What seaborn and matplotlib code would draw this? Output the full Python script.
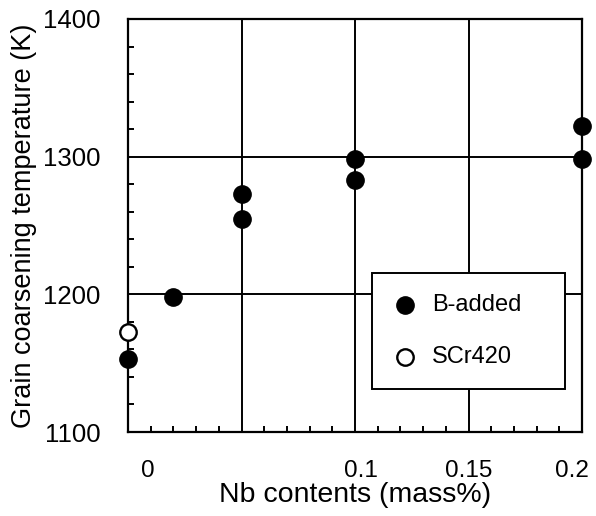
import matplotlib
matplotlib.use("Agg")
import matplotlib.pyplot as plt
import matplotlib.transforms as mtransforms
from matplotlib.ticker import MultipleLocator, FixedLocator
import seaborn as sns
import pandas as pd

# ---- data ----
b_added_nb = [0.0, 0.02, 0.05, 0.05, 0.10, 0.10, 0.20, 0.20]
b_added_temp = [1153, 1198, 1273, 1255, 1298, 1283, 1322, 1298]
scr420_nb = [0.0]
scr420_temp = [1173]
x_tick_values = [0.0, 0.05, 0.10, 0.15, 0.20]
x_tick_labels = ["0", "", "0.1", "0.15", "0.2"]
y_tick_values = [1100, 1200, 1300, 1400]
y_tick_labels = ["1100", "1200", "1300", "1400"]

sns.set_style("white")
plt.rcParams["font.family"] = ["Liberation Sans", "DejaVu Sans"]
plt.rcParams["text.color"] = "black"
plt.rcParams["axes.labelcolor"] = "black"
plt.rcParams["xtick.color"] = "black"
plt.rcParams["ytick.color"] = "black"

fig = plt.figure(figsize=(5.96, 5.16), dpi=100)
ax = fig.add_axes([128 / 596, 1 - 432 / 516, 454 / 596, 413 / 516])

df_b = pd.DataFrame({"nb": b_added_nb, "temp": b_added_temp})
df_s = pd.DataFrame({"nb": scr420_nb, "temp": scr420_temp})

sns.scatterplot(data=df_b, x="nb", y="temp", ax=ax, s=155, color="black",
                edgecolor="black", linewidth=1.0, marker="o", label="B-added",
                clip_on=False, zorder=6)
sns.scatterplot(data=df_s, x="nb", y="temp", ax=ax, s=140, facecolor="white",
                edgecolor="black", linewidth=1.7, marker="o", label="SCr420",
                clip_on=False, zorder=6)

ax.set_xlim(0, 0.2)
ax.set_ylim(1100, 1400)

ax.xaxis.set_major_locator(FixedLocator(x_tick_values))
ax.set_xticklabels(x_tick_labels)
ax.yaxis.set_major_locator(FixedLocator(y_tick_values))
ax.set_yticklabels(y_tick_labels)
ax.xaxis.set_minor_locator(MultipleLocator(0.01))
ax.yaxis.set_minor_locator(MultipleLocator(20))

ax.tick_params(axis="x", which="major", length=0, pad=20, labelsize=17.5,
               labelcolor="black")
ax.tick_params(axis="y", which="major", length=0, pad=20, labelsize=18.5,
               labelcolor="black")
ax.tick_params(which="minor", direction="in", length=4, width=1.4,
               color="black", bottom=True, left=True, top=False, right=False)

# label offsets as in the original
offsets = {"0": 14, "0.1": 4, "0.2": -7}
for lab in ax.get_xticklabels():
    t = lab.get_text()
    if t in offsets:
        lab.set_transform(lab.get_transform() +
                          mtransforms.ScaledTranslation(offsets[t] / 72, 0, fig.dpi_scale_trans))

ax.grid(True, which="major", color="black", linewidth=1.4)
for sp in ax.spines.values():
    sp.set_visible(True)
    sp.set_color("black")
    sp.set_linewidth(1.6)

ax.set_xlabel("Nb contents (mass%)", fontsize=20.5, labelpad=0.5)
ax.set_ylabel("Grain coarsening temperature (K)", fontsize=19.5, labelpad=4)

leg = ax.legend(loc="upper left", bbox_to_anchor=(0.537, 0.385, 0.426, 0.0),
                mode="expand", borderaxespad=0, fontsize=17, frameon=True,
                fancybox=False, framealpha=1, edgecolor="black",
                handlelength=1.0, handletextpad=0.65, borderpad=0.9,
                labelspacing=1.25, markerscale=1.0)
leg.get_frame().set_linewidth(1.4)
for t in leg.get_texts():
    t.set_color("black")
leg.set_zorder(10)

fig.savefig("out.png", dpi=100)
